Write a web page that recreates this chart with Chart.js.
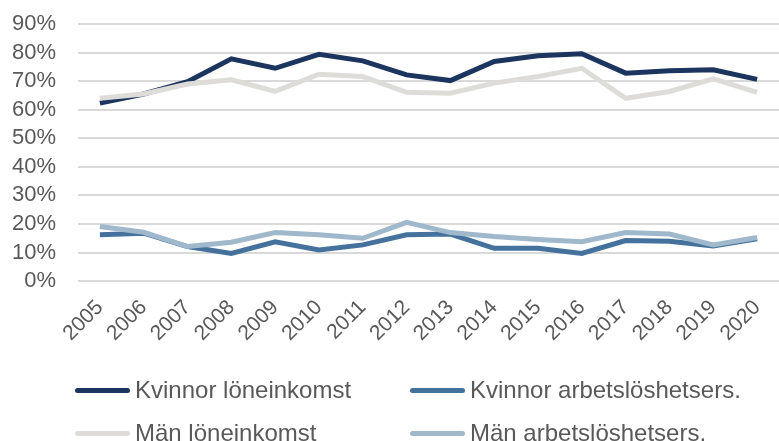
<!DOCTYPE html>
<html>
<head>
<meta charset="utf-8">
<script src="https://cdn.jsdelivr.net/npm/chart.js@4"></script>
<style>
  body { margin: 0; background: #fff; }
  #wrap { position: relative; width: 779px; height: 441px; overflow: hidden; }
  #legend { position: absolute; left: 75px; top: 0; font-family: "Liberation Sans", Arial, sans-serif; font-size: 24px; color: #595959; }
  .item { position: absolute; white-space: nowrap; display: flex; align-items: center; height: 30px; }
  .swatch { width: 55px; height: 5px; border-radius: 3px; margin-right: 5px; }
</style>
</head>
<body>
<div id="wrap">
  <canvas id="myChart" width="779" height="441"></canvas>
  <div id="legend"></div>
</div>
<script>
const years = ['2005','2006','2007','2008','2009','2010','2011','2012','2013','2014','2015','2016','2017','2018','2019','2020'];
const kvinnorLon = [62.3, 65.5, 69.8, 77.8, 74.5, 79.4, 77.1, 72.2, 70.2, 76.9, 78.9, 79.6, 72.8, 73.6, 74.0, 70.6];
const kvinnorArb = [16.2, 16.8, 12.1, 9.7, 13.8, 10.9, 12.7, 16.2, 16.5, 11.5, 11.5, 9.7, 14.2, 14.0, 12.3, 14.8];
const manLon = [64.0, 65.5, 69.0, 70.5, 66.4, 72.4, 71.6, 66.1, 65.8, 69.3, 71.6, 74.5, 64.0, 66.4, 70.8, 66.1];
const manArb = [19.1, 17.1, 12.1, 13.6, 17.0, 16.2, 15.0, 20.6, 17.0, 15.6, 14.6, 13.8, 17.0, 16.5, 12.7, 15.3];
const yTicks = ['0%','10%','20%','30%','40%','50%','60%','70%','80%','90%'];

const names = ['Kvinnor löneinkomst', 'Kvinnor arbetslöshetsers.', 'Män löneinkomst', 'Män arbetslöshetsers.'];
const colors = ['#1c355e', '#44729d', '#dddcd8', '#a0b8cc'];
const series = [kvinnorLon, kvinnorArb, manLon, manArb];
// draw order: light lines first so dark ones are on top
const order = [1, 3, 0, 2];

const font = "'Liberation Sans', Arial, sans-serif";

const data = {
  labels: years,
  datasets: series.map((s, i) => ({
    label: names[i],
    data: s,
    borderColor: colors[i],
    backgroundColor: colors[i],
    borderWidth: 5,
    pointRadius: 0,
    tension: 0,
    order: order[i]
  }))
};

// the scales ask for extra margin for their outer labels; the original has none
const noScalePadding = {
  id: 'noScalePadding',
  beforeLayout(chart) {
    Object.values(chart.scales).forEach(s => {
      s.getPadding = () => ({ left: 0, top: 0, right: 0, bottom: 0 });
    });
  }
};

const config = {
  type: 'line',
  data: data,
  options: {
    responsive: false,
    animation: false,
    layout: { padding: { left: 0, right: 0, top: 24, bottom: 89 } },
    plugins: { legend: { display: false }, tooltip: { enabled: false } },
    scales: {
      x: {
        offset: true,
        grid: { display: false },
        border: { display: false },
        ticks: {
          autoSkip: false, maxRotation: 45, minRotation: 45,
          color: '#595959', font: { family: font, size: 21 }, padding: 6
        }
      },
      y: {
        min: 0, max: 90,
        grid: { color: '#d9d9d9', lineWidth: 2, drawTicks: false },
        border: { display: false },
        afterFit: (scale) => { scale.width = 78; },
        ticks: {
          stepSize: 10, padding: 22, autoSkip: false,
          color: '#595959', font: { family: font, size: 22 },
          callback: (v) => yTicks[Math.round(v / 10)]
        }
      }
    }
  },
  plugins: [noScalePadding]
};

const myChart = new Chart(document.getElementById('myChart'), config);

// legend in two columns like the original
const pos = [[0, 375], [335, 375], [0, 418], [335, 418]];
const legend = document.getElementById('legend');
names.forEach((n, i) => {
  const d = document.createElement('div');
  d.className = 'item';
  d.style.left = pos[i][0] + 'px';
  d.style.top = pos[i][1] + 'px';
  d.innerHTML = `<span class="swatch" style="background:${colors[i]}"></span><span>${n}</span>`;
  legend.appendChild(d);
});
</script>
</body>
</html>
